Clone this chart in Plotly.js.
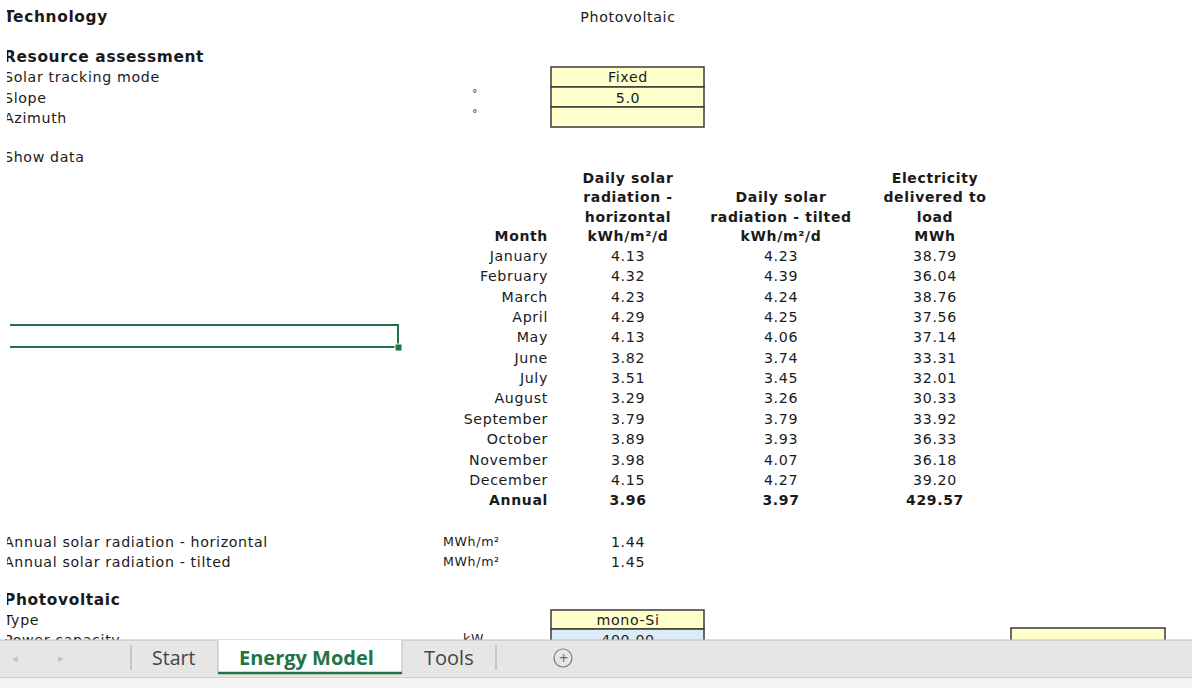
<!DOCTYPE html>
<html>
<head>
<meta charset="utf-8">
<script src="https://cdn.plot.ly/plotly-3.0.1.min.js"></script>
<style>html,body{margin:0;padding:0;background:#fff;}#chart{width:1192px;height:688px;}
#chart .textpoint text{letter-spacing:0.65px;}</style>
</head>
<body>
<div id="chart"></div>
<script>
// ---- data ----
const months = ["January","February","March","April","May","June","July","August","September","October","November","December"];
const radHorizontal = [4.13,4.32,4.23,4.29,4.13,3.82,3.51,3.29,3.79,3.89,3.98,4.15];
const radTilted = [4.23,4.39,4.24,4.25,4.06,3.74,3.45,3.26,3.79,3.93,4.07,4.27];
const electricity = [38.79,36.04,38.76,37.56,37.14,33.31,32.01,30.33,33.92,36.33,36.18,39.20];
const annualLabel = "Annual";
const annualValues = [3.96, 3.97, 429.57];
const headers = [
  ["Month"],
  ["Daily solar","radiation -","horizontal","kWh/m²/d"],
  ["Daily solar","radiation - tilted","kWh/m²/d"],
  ["Electricity","delivered to","load","MWh"]
];
const annualRadLabels = ["Annual solar radiation - horizontal","Annual solar radiation - tilted"];
const annualRadUnit = "MWh/m²";
const annualRadValues = [1.44, 1.45];
const sheetTabs = ["Start","Energy Model","Tools"];

// ---- layout helpers ----
const FONT = "DejaVu Sans, Liberation Sans, sans-serif";
const BASE = 14.2, BOLD = 14, HEAD = 15.4;
const traces = [];
const DY = 1.0;
function txt(xs, ys, texts, pos, bold, size, color){
  traces.push({type:"scatter", mode:"text", x:xs, y:ys.map(v=>v+DY), text:texts, textposition:pos,
    hoverinfo:"skip", showlegend:false, cliponaxis:false,
    textfont:{family:FONT, size:size||BASE, color:color||"#1a1a1a", weight:bold?"bold":"normal"}});
}
const rowH = 20.35, row0 = 256.5;
const colMonth = 548, colH = 628, colT = 781, colE = 935;
const L = 4;

// Top labels
txt([L],[17],["Technology"],"middle right",true,HEAD);
txt([colH],[17],["Photovoltaic"],"middle center",false);
txt([L],[57],["Resource assessment"],"middle right",true,HEAD);
txt([L,L,L],[77,98,118],["Solar tracking mode","Slope","Azimuth"],"middle right",false);
txt([475,475],[93,113],["°","°"],"middle center",false,10);
txt([colH,colH],[77,98],["Fixed","5.0"],"middle center",false);
txt([L],[157],["Show data"],"middle right",false);

// Headers
const hdrBottom = 236.5;
txt([colMonth],[hdrBottom],headers[0],"middle left",true,BOLD);
[[colH,headers[1]],[colT,headers[2]],[colE,headers[3]]].forEach(([cx,lines])=>{
  const ys = lines.map((_,i)=> hdrBottom - (lines.length-1-i)*19.4);
  txt(lines.map(()=>cx), ys, lines, "middle center", true, BOLD);
});

// Monthly rows
const ys = months.map((_,i)=> row0 + i*rowH);
txt(months.map(()=>colMonth), ys, months, "middle left", false);
txt(months.map(()=>colH), ys, radHorizontal.map(v=>v.toFixed(2)), "middle center", false);
txt(months.map(()=>colT), ys, radTilted.map(v=>v.toFixed(2)), "middle center", false);
txt(months.map(()=>colE), ys, electricity.map(v=>v.toFixed(2)), "middle center", false);
const yAnn = row0 + months.length*rowH;
txt([colMonth],[yAnn],[annualLabel],"middle left",true,BOLD);
txt([colH,colT,colE],[yAnn,yAnn,yAnn], annualValues.map(v=>v.toFixed(2)), "middle center", true, BOLD);

// Annual radiation
txt([L,L],[542,562],annualRadLabels,"middle right",false);
txt([443,443],[542,562],[annualRadUnit,annualRadUnit],"middle right",false,12.6);
txt([colH,colH],[542,562],annualRadValues.map(v=>v.toFixed(2)),"middle center",false);

// Photovoltaic section
txt([L],[600],["Photovoltaic"],"middle right",true,HEAD);
txt([L],[620],["Type"],"middle right",false);
txt([colH],[620],["mono-Si"],"middle center",false);
txt([L],[640],["Power capacity"],"middle right",false);
txt([463],[638.5],["kW"],"middle right",false,12.6);
txt([colH],[640],["400.00"],"middle center",false);

// ---- shapes ----
const shapes = [];
function rect(x0,y0,x1,y1,fill,lc,lw,layer){
  shapes.push({type:"rect",xref:"x",yref:"y",x0,y0,x1,y1,fillcolor:fill,
    line:{color:lc||"rgba(0,0,0,0)",width:lw||0},layer:layer||"below"});
}
function line(x0,y0,x1,y1,c,w,layer){
  shapes.push({type:"line",xref:"x",yref:"y",x0,y0,x1,y1,line:{color:c,width:w},layer:layer||"below"});
}
const yellow = "#FFFFCC", border = "#3a3a3a";
rect(551,67,704,87,yellow,border,1.5);
rect(551,87,704,107,yellow,border,1.5);
rect(551,107,704,127,yellow,border,1.5);
rect(551,610,704,629,yellow,border,1.5);
rect(551,629,704,650,"#DDEBF7",border,1.5);
rect(1011,628,1165,650,yellow,border,1.5);

// left edge clip (sheet is scrolled)
rect(0,0,7,639,"#FFFFFF","#FFFFFF",0,"above");

// selection (green)
const green = "#217346";
line(10,325,398,325,green,2);
line(10,347,396,347,green,2);
line(398,324,398,345,green,2);
rect(395,344,402,351,green,"#ffffff",1);

// tab bar (above traces)
rect(0,640,1192,677,"#E6E6E6","#E6E6E6",0,"above");
line(0,640,1192,640,"#BDBDBD",1.2,"above");
rect(0,677,1192,688,"#F3F3F3","#F3F3F3",0,"above");
line(0,677.5,1192,677.5,"#CFCFCF",1,"above");
rect(218,640,402,674,"#FFFFFF","#FFFFFF",0,"above");
line(218,640,218,674,"#BDBDBD",1,"above");
line(402,640,402,674,"#BDBDBD",1,"above");
line(218,673,402,673,green,2.5,"above");
line(131,645,131,670,"#A6A6A6",1,"above");
line(496,645,496,670,"#A6A6A6",1,"above");
shapes.push({type:"circle",xref:"x",yref:"y",x0:554,y0:649,x1:572,y1:667,
  line:{color:"#7a7a7a",width:1.2},fillcolor:"rgba(0,0,0,0)",layer:"above"});

// annotations for the tab bar
const TABFONT = "Open Sans, Noto Sans, sans-serif";
const annotations = [
  {x:173,y:657,text:sheetTabs[0],font:{family:TABFONT,size:19.5,color:"#444"}},
  {x:306,y:657,text:"<b>"+sheetTabs[1]+"</b>",font:{family:TABFONT,size:20,color:green}},
  {x:449,y:657,text:sheetTabs[2],font:{family:TABFONT,size:20,color:"#444"}},
  {x:563,y:657.5,text:"+",font:{family:TABFONT,size:16,color:"#6a6a6a"}},
  {x:15,y:658,text:"◂",font:{family:"DejaVu Sans",size:11,color:"#C0C0C0"}},
  {x:61,y:658,text:"▸",font:{family:"DejaVu Sans",size:11,color:"#C0C0C0"}}
].map(a=>Object.assign({xref:"x",yref:"y",showarrow:false,xanchor:"center",yanchor:"middle"},a));

const layout = {
  width:1192, height:688,
  margin:{l:0,r:0,t:0,b:0},
  paper_bgcolor:"#ffffff", plot_bgcolor:"#ffffff",
  xaxis:{range:[0,1192],visible:false,fixedrange:true},
  yaxis:{range:[688,0],visible:false,fixedrange:true},
  shapes, annotations, showlegend:false
};
Plotly.newPlot("chart", traces, layout, {displayModeBar:false, staticPlot:true});
</script>
</body>
</html>
